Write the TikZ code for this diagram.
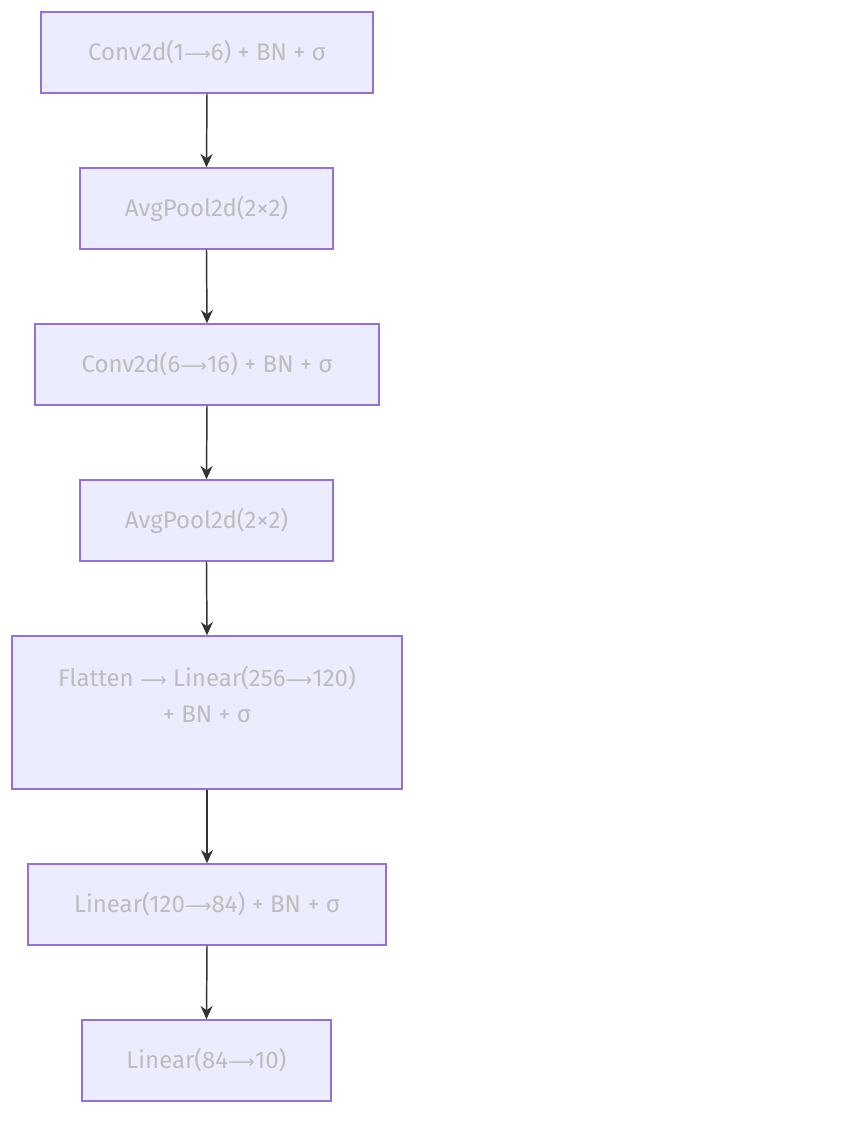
\documentclass[tikz,border=0pt]{standalone}
\usepackage{fontspec}
\setmainfont{Fira Sans}
\newfontfamily\arrfont{DejaVu Sans}
\newcommand{\la}{{\arrfont\fontsize{14}{18}\selectfont ⟶}}
\usetikzlibrary{arrows.meta}
\definecolor{boxfill}{HTML}{ECECFF}
\definecolor{boxline}{HTML}{9370DB}
\definecolor{txt}{HTML}{BDBDBD}
\definecolor{arr}{HTML}{333333}
\tikzset{
  box/.style={draw=boxline, fill=boxfill, line width=1.1pt, rectangle, minimum height=60.75pt, text=txt, font=\fontsize{18}{22}\selectfont, inner sep=0pt},
  conn/.style={draw=arr, line width=1.1pt, -{Stealth[length=10pt,width=9pt]}},
  lbl/.style={text=txt, font=\fontsize{18}{22}\selectfont, align=center, inner sep=0pt}
}
\begin{document}
\begin{tikzpicture}[x=0.75pt,y=-0.75pt]
\useasboundingbox (0,0) rectangle (840,1122);
\node[box, minimum width=249pt] (b1) at (207,52.5) {Conv2d(1\la6) + BN + σ};
\node[box, minimum width=189.75pt] (b2) at (206.5,208.5) {AvgPool2d(2×2)};
\node[box, minimum width=258pt] (b3) at (207,364.5) {Conv2d(6\la16) + BN + σ};
\node[box, minimum width=189.75pt] (b4) at (206.5,520.5) {AvgPool2d(2×2)};
\node[box, minimum width=292.5pt, minimum height=114.75pt] (b5) at (207,712.5) {};
\node[lbl] (t5) at (207,694) {Flatten \la{} Linear(256\la120)\\[5pt]+ BN + σ};
\node[box, minimum width=268.5pt] (b6) at (207,904.5) {Linear(120\la84) + BN + σ};
\node[box, minimum width=186.75pt] (b7) at (206.5,1060.5) {Linear(84\la10)};
\draw[conn] (b1.south) -- (b2.north);
\draw[conn] (b2.south) -- (b3.north);
\draw[conn] (b3.south) -- (b4.north);
\draw[conn] (b4.south) -- (b5.north);
\draw[conn] (b5.south) -- (b6.north);
\draw[conn] (b6.south) -- (b7.north);
\end{tikzpicture}
\end{document}
